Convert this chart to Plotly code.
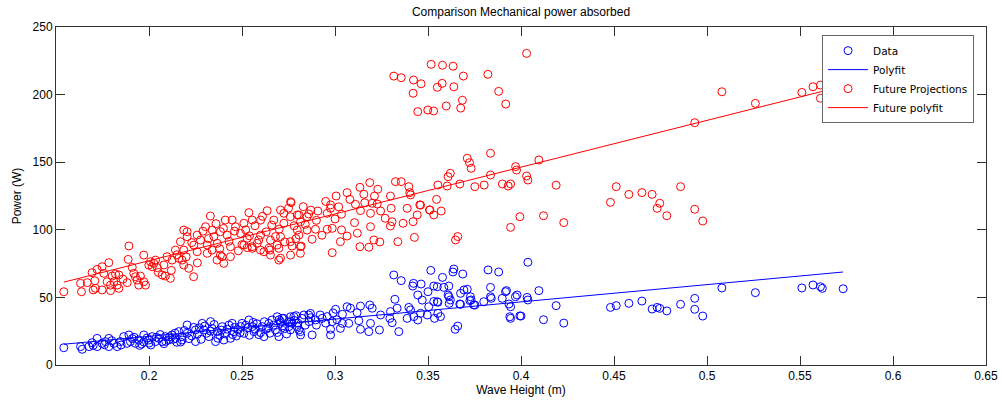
import numpy as np
import plotly.graph_objects as go

# ---------------- Data ----------------
data_x = [
    0.1542, 0.1632, 0.1641, 0.1677, 0.1694, 0.1700, 0.1721, 0.1721, 0.1748, 0.1760,
    0.1766, 0.1784, 0.1784, 0.1800, 0.1811, 0.1829, 0.1846, 0.1850, 0.1864, 0.1882,
    0.1892, 0.1900, 0.1910, 0.1927, 0.1945, 0.1960, 0.1972, 0.1972, 0.1999, 0.2000,
    0.2017, 0.2035, 0.2040, 0.2053, 0.2071, 0.2088, 0.2090, 0.2106, 0.2124, 0.2130,
    0.2142, 0.2150, 0.2160, 0.2178, 0.2178,
    0.2205, 0.2205, 0.2230, 0.2250, 0.2250, 0.2270, 0.2286, 0.2295, 0.2310, 0.2322,
    0.2331, 0.2340, 0.2358, 0.2367, 0.2380, 0.2394, 0.2402, 0.2420, 0.2438, 0.2447,
    0.2456, 0.2470, 0.2480, 0.2492, 0.2500, 0.2510, 0.2530, 0.2537, 0.2555, 0.2564,
    0.2580, 0.2590, 0.2609, 0.2618, 0.2630, 0.2644, 0.2650, 0.2662, 0.2680, 0.2689,
    0.2698, 0.2707, 0.2716, 0.2730, 0.2740, 0.2761, 0.2770, 0.2780, 0.2797, 0.2814,
    0.2833, 0.2860,
    0.1920, 0.1950, 0.1990, 0.2010, 0.2060, 0.2080, 0.2110, 0.2140, 0.2170, 0.2190,
    0.2215, 0.2240, 0.2260, 0.2280, 0.2300, 0.2330, 0.2350, 0.2370, 0.2390, 0.2410,
    0.2430, 0.2450, 0.2460, 0.2490, 0.2520, 0.2540, 0.2560, 0.2570, 0.2600, 0.2620,
    0.2640, 0.2670, 0.2690, 0.2700, 0.2720, 0.2750, 0.2760, 0.2790, 0.2800, 0.2840,
    0.2870, 0.2900, 0.2920, 0.2950, 0.2990, 0.3010,
    0.2707, 0.2725, 0.2752, 0.2761, 0.2779, 0.2806, 0.2815, 0.2823, 0.2859, 0.2868,
    0.2877, 0.2895, 0.2931, 0.2958, 0.2976, 0.2976, 0.2985, 0.3003, 0.3029, 0.3040,
    0.3040, 0.3065, 0.3074, 0.3083, 0.3119, 0.3128, 0.3137, 0.3137, 0.3182, 0.3187,
    0.3191, 0.3200, 0.3239, 0.3245, 0.3295, 0.3298, 0.3307, 0.3316, 0.3322, 0.3334,
    0.3343, 0.3356, 0.3388, 0.3397, 0.3406, 0.3418, 0.3422, 0.3424, 0.3445, 0.3445,
    0.3460, 0.3463, 0.3469, 0.3496, 0.3500, 0.3504, 0.3515, 0.3531, 0.3531, 0.3535,
    0.3550, 0.3550, 0.3553, 0.3553, 0.3567, 0.3578, 0.3585, 0.3608, 0.3612, 0.3612,
    0.3614, 0.3620, 0.3634, 0.3639, 0.3646, 0.3660, 0.3671, 0.3675, 0.3675, 0.3687,
    0.3693, 0.3711, 0.3725, 0.3728, 0.3732, 0.3746, 0.3752, 0.3800, 0.3823, 0.3836,
    0.3836, 0.3840, 0.3880, 0.3899, 0.3917, 0.3922, 0.3935, 0.3940, 0.3944, 0.3944,
    0.3970, 0.3979, 0.3994, 0.4000, 0.4033, 0.4037, 0.4037, 0.4096, 0.4121, 0.4189,
    0.4230,
    0.4481, 0.4512, 0.4580, 0.4650, 0.4705, 0.4732, 0.4746, 0.4784, 0.4858, 0.4934,
    0.4934, 0.4977, 0.5080, 0.5260, 0.5510, 0.5570, 0.5610, 0.5620, 0.5732,
]
data_y = [
    12.8, 13.6, 11.6, 13.6, 16.5, 14.5, 19.7, 13.6, 16.0, 15.0,
    17.3, 19.7, 13.6, 18.0, 16.0, 13.6, 17.3, 14.8, 21.0, 16.0,
    22.2, 17.3, 19.5, 16.0, 18.5, 15.5, 22.2, 17.0, 18.5, 16.2,
    21.0, 17.3, 20.5, 19.7, 17.3, 21.0, 17.5, 18.5, 22.2, 19.0,
    19.7, 16.8, 24.7, 21.0, 18.5,
    29.6, 23.4, 21.5, 25.9, 17.3, 27.5, 30.8, 25.9, 23.5, 21.0,
    32.1, 27.0, 17.3, 24.7, 22.0, 28.4, 18.5, 26.5, 19.7, 30.8,
    24.7, 21.5, 26.0, 28.4, 30.8, 23.4, 27.5, 33.3, 28.4, 24.7,
    30.5, 22.5, 28.4, 21.0, 26.5, 30.8, 23.5, 33.3, 25.9, 35.7,
    21.0, 30.8, 34.5, 27.0, 23.0, 35.7, 30.8, 33.0, 28.4, 24.7,
    37.0, 32.1,
    20.5, 14.5, 20.0, 14.8, 22.5, 15.8, 20.8, 23.5, 17.0, 25.5,
    19.5, 27.8, 22.8, 19.0, 28.8, 25.0, 30.0, 19.8, 25.8, 23.0,
    29.5, 22.5, 27.8, 24.0, 29.5, 22.0, 31.5, 26.5, 24.0, 32.0,
    27.5, 29.5, 24.0, 33.5, 29.0, 31.8, 26.0, 36.5, 31.0, 29.5,
    35.0, 29.5, 37.0, 31.0, 38.5, 33.5,
    32.1, 34.5, 28.4, 32.1, 35.8, 25.9, 22.2, 34.5, 37.0, 38.2,
    22.2, 33.3, 34.5, 35.8, 26.4, 22.2, 32.1, 41.2, 27.1, 37.5,
    30.8, 43.1, 30.8, 42.0, 38.7, 32.8, 43.6, 26.4, 24.7, 44.4,
    30.8, 42.0, 25.9, 37.0, 34.5, 39.5, 31.3, 66.6, 48.6, 42.0,
    24.7, 62.4, 34.5, 42.6, 40.7, 58.4, 60.4, 35.8, 51.8, 33.3,
    38.2, 59.9, 48.0, 37.0, 54.2, 43.1, 70.0, 58.4, 47.0, 34.5,
    57.9, 46.8, 38.2, 46.4, 35.8, 64.8, 57.4, 51.8, 58.4, 50.5,
    45.6, 48.1, 68.8, 71.0, 26.4, 28.8, 45.1, 53.0, 44.9, 67.3,
    55.5, 56.0, 47.6, 50.5, 48.1, 44.4, 44.4, 46.8, 70.3, 57.4,
    50.5, 49.3, 68.8, 49.3, 54.2, 55.0, 45.1, 35.7, 43.1, 34.5,
    50.5, 51.8, 36.3, 36.2, 50.0, 48.1, 76.0, 55.0, 33.5, 43.9,
    31.0,
    42.6, 43.9, 45.6, 47.3, 41.4, 42.6, 41.9, 40.0, 44.9, 49.3,
    41.2, 36.2, 57.0, 53.5, 57.0, 59.2, 57.9, 56.7, 56.4,
]

future_x = [
    0.1542, 0.1632, 0.1637, 0.1668, 0.1694, 0.1700, 0.1709, 0.1712, 0.1721, 0.1748,
    0.1748, 0.1757, 0.1775, 0.1784, 0.1793, 0.1793, 0.1802, 0.1811, 0.1820, 0.1829,
    0.1838, 0.1838, 0.1860, 0.1883, 0.1888, 0.1892, 0.1910, 0.1918, 0.1927, 0.1936,
    0.1945, 0.1954, 0.1972, 0.1972, 0.1981, 0.1999, 0.2008, 0.2017, 0.2026, 0.2035,
    0.2045, 0.2071, 0.2088, 0.2097, 0.2115, 0.2124, 0.2142, 0.2160, 0.2169, 0.2178,
    0.2187, 0.2187, 0.2187,
    0.2205, 0.2205, 0.2214, 0.2240, 0.2241, 0.2259, 0.2259, 0.2277, 0.2304, 0.2313,
    0.2313, 0.2330, 0.2339, 0.2340, 0.2349, 0.2366, 0.2367, 0.2384, 0.2384, 0.2393,
    0.2402, 0.2410, 0.2420, 0.2438, 0.2438, 0.2447, 0.2465, 0.2492, 0.2500, 0.2510,
    0.2510, 0.2528, 0.2528, 0.2537, 0.2554, 0.2555, 0.2555, 0.2582, 0.2599, 0.2600,
    0.2600, 0.2618, 0.2635, 0.2644, 0.2650, 0.2653, 0.2653, 0.2671, 0.2689, 0.2698,
    0.2698, 0.2707, 0.2707, 0.2707, 0.2725, 0.2725, 0.2760, 0.2760, 0.2761, 0.2761,
    0.2764, 0.2769, 0.2797, 0.2797, 0.2806, 0.2806, 0.2814, 0.2814, 0.2815, 0.2818,
    0.2829, 0.2850, 0.2850, 0.2859, 0.2877, 0.2895, 0.2908, 0.2958, 0.2958, 0.2976,
    0.2976, 0.2985, 0.2985, 0.3006, 0.3029, 0.3035, 0.3035, 0.3065, 0.3065, 0.3105,
    0.3110, 0.3134, 0.3134, 0.3137, 0.3155, 0.3182, 0.3187, 0.3191, 0.3191, 0.3200,
    0.3209, 0.3212, 0.3227, 0.3241, 0.3245, 0.3298, 0.3298, 0.3302, 0.3307, 0.3316,
    0.3325, 0.3338, 0.3356, 0.3356, 0.3366, 0.3388, 0.3397, 0.3402, 0.3406, 0.3420,
    0.3420, 0.3422, 0.3427, 0.3442, 0.3445, 0.3456, 0.3460, 0.3463, 0.3499, 0.3508,
    0.3510, 0.3517, 0.3530, 0.3531, 0.3546, 0.3550, 0.3553, 0.3571, 0.3576, 0.3578,
    0.3598, 0.3603, 0.3608, 0.3620, 0.3635, 0.3639, 0.3648, 0.3660, 0.3671, 0.3676,
    0.3685, 0.3690, 0.3711, 0.3723, 0.3732, 0.3752, 0.3802, 0.3822, 0.3836, 0.3836,
    0.3880, 0.3900, 0.3918, 0.3931, 0.3944, 0.3944, 0.3971, 0.3976, 0.3994, 0.4030,
    0.4030, 0.4037, 0.4096, 0.4121, 0.4189, 0.4230,
    0.4481, 0.4512, 0.4580, 0.4650, 0.4705, 0.4732, 0.4746, 0.4784, 0.4858, 0.4934,
    0.4934, 0.4977, 0.5080, 0.5260, 0.5510, 0.5570, 0.5610, 0.5610, 0.5732,
    0.2050, 0.2080, 0.2120, 0.2150, 0.2200, 0.2230, 0.2260, 0.2290, 0.2320, 0.2360,
    0.2380, 0.2400, 0.2430, 0.2460, 0.2480, 0.2520, 0.2540, 0.2570, 0.2590, 0.2610,
    0.2630, 0.2660, 0.2680, 0.2700, 0.2730, 0.2750, 0.2780, 0.2790, 0.2840, 0.2870,
    0.2900, 0.2930, 0.2950, 0.3000, 0.3020, 0.3080, 0.3120, 0.3160, 0.3230, 0.3270,
]
future_y = [
    54.2, 60.4, 54.2, 60.9, 68.3, 55.5, 62.3, 56.7, 70.7, 72.7,
    55.5, 67.8, 61.6, 75.7, 59.1, 55.0, 65.8, 61.6, 67.3, 59.1,
    56.7, 66.6, 63.5, 60.9, 78.1, 88.0, 72.2, 67.8, 65.3, 62.8,
    59.1, 65.8, 61.6, 81.3, 59.1, 73.9, 76.4, 72.7, 75.2, 77.6,
    72.0, 66.5, 65.8, 80.1, 64.1, 77.6, 85.0, 78.9, 91.2, 77.6,
    73.9, 99.8, 85.0,
    98.6, 94.9, 71.5, 65.3, 88.7, 96.1, 83.8, 92.4, 102.3, 88.7,
    82.6, 110.2, 85.0, 99.8, 94.9, 77.6, 90.0, 98.6, 81.3, 80.1,
    75.2, 107.2, 96.1, 87.5, 80.1, 107.2, 102.3, 97.4, 89.0, 104.8,
    88.7, 93.7, 86.8, 112.7, 87.5, 107.2, 86.3, 90.0, 85.0, 107.2,
    96.1, 83.8, 114.1, 86.3, 85.0, 92.4, 81.3, 107.2, 88.7, 86.3,
    77.6, 114.6, 94.9, 79.0, 104.8, 112.2, 109.7, 91.2, 120.8, 81.3,
    120.1, 88.0, 111.0, 99.8, 110.9, 96.1, 87.5, 82.6, 106.0, 88.0,
    117.1, 109.7, 99.8, 111.7, 93.0, 100.4, 113.9, 112.2, 100.4, 118.4,
    115.9, 101.1, 83.1, 125.0, 91.2, 111.5, 99.9, 127.5, 95.4, 105.3,
    118.8, 131.4, 87.5, 114.2, 126.3, 87.1, 134.9, 112.2, 102.3, 119.6,
    92.5, 125.0, 119.1, 91.0, 113.9, 125.0, 102.8, 115.9, 106.0, 213.7,
    135.6, 91.2, 135.6, 212.5, 104.8, 115.9, 131.9, 127.5, 125.8, 106.0,
    201.0, 210.8, 94.4, 111.0, 187.4, 118.4, 118.3, 208.0, 188.6, 114.7,
    114.6, 222.4, 187.9, 111.0, 122.5, 205.4, 133.1, 113.9, 208.3, 221.7,
    191.6, 132.4, 139.3, 141.8, 221.0, 205.8, 92.5, 95.0, 133.9, 190.0,
    195.8, 213.7, 152.9, 149.7, 145.5, 131.9, 133.1, 215.0, 156.6, 140.5,
    202.4, 133.9, 193.0, 132.4, 133.9, 101.8, 146.7, 144.2, 109.7, 230.5,
    139.8, 136.8, 151.6, 110.4, 133.0, 105.3,
    120.3, 131.9, 126.2, 127.5, 126.2, 115.9, 119.6, 110.4, 131.9, 179.2,
    115.2, 106.5, 202.1, 193.5, 201.6, 205.8, 207.0, 197.3, 205.0,
    68.5, 74.0, 70.0, 81.5, 80.0, 90.5, 75.5, 99.0, 93.5, 104.5,
    86.0, 101.0, 91.5, 99.0, 84.5, 100.0, 95.5, 103.0, 92.5, 110.0,
    98.5, 103.5, 95.0, 100.5, 91.0, 116.0, 103.0, 93.5, 104.0, 114.5,
    107.0, 96.0, 121.0, 108.0, 117.0, 122.5, 97.5, 120.0, 130.0, 108.5,
]

x_ticks = [0.2, 0.25, 0.3, 0.35, 0.4, 0.45, 0.5, 0.55, 0.6, 0.65]
x_tick_labels = ["0.2", "0.25", "0.3", "0.35", "0.4", "0.45", "0.5", "0.55", "0.6", "0.65"]
y_ticks = [0, 50, 100, 150, 200, 250]
y_tick_labels = ["0", "50", "100", "150", "200", "250"]

# ---------------- Fits (degree-1 polyfit, as in the original) ----------------
dx = np.array(data_x)
dy = np.array(data_y)
fx = np.array(future_x)
fy = np.array(future_y)
p_data = np.polyfit(dx, dy, 1)
p_future = np.polyfit(fx, fy, 1)
dx_sorted = np.sort(dx)
fx_sorted = np.sort(fx)

BLUE = "#0000FF"
RED = "#FF0000"
FONT = "Liberation Sans, Arial, Helvetica, sans-serif"

fig = go.Figure()
fig.add_trace(go.Scatter(
    x=dx, y=dy, mode="markers", name="Data",
    marker=dict(symbol="circle-open", size=8, color=BLUE, line=dict(width=1, color=BLUE)),
))
fig.add_trace(go.Scatter(
    x=dx_sorted, y=np.polyval(p_data, dx_sorted), mode="lines", name="Polyfit",
    line=dict(color=BLUE, width=1),
))
fig.add_trace(go.Scatter(
    x=fx, y=fy, mode="markers", name="Future Projections",
    marker=dict(symbol="circle-open", size=8, color=RED, line=dict(width=1, color=RED)),
))
fig.add_trace(go.Scatter(
    x=fx_sorted, y=np.polyval(p_future, fx_sorted), mode="lines", name="Future polyfit",
    line=dict(color=RED, width=1),
))

axis_common = dict(
    showline=True, linecolor="#333333", linewidth=1, mirror="ticks",
    ticks="inside", ticklen=9, tickcolor="#333333", tickwidth=1,
    showgrid=False, zeroline=False,
    tickfont=dict(family=FONT, size=12, color="#000000"),
)

fig.update_layout(
    width=1002, height=403,
    margin=dict(l=56, r=16, t=27, b=38, autoexpand=False),
    paper_bgcolor="white", plot_bgcolor="white",
    title=dict(text="Comparison Mechanical power absorbed",
               font=dict(family=FONT, size=12, color="#000000"),
               x=0.5, xref="paper", xanchor="center",
               y=0.97, yref="container", yanchor="middle"),
    xaxis=dict(range=[0.15, 0.65], tickvals=x_ticks, ticktext=x_tick_labels,
               title=dict(text="Wave Height (m)", font=dict(family=FONT, size=12, color="#000000"),
                          standoff=2),
               automargin=False, **axis_common),
    yaxis=dict(range=[0, 250], tickvals=y_ticks, ticktext=y_tick_labels,
               title=dict(text="Power (W)", font=dict(family=FONT, size=12, color="#000000"),
                          standoff=8),
               automargin=False, **axis_common),
    legend=dict(x=0.8237, y=0.976, xanchor="left", yanchor="top",
                bgcolor="white", bordercolor="#666666", borderwidth=1,
                itemwidth=40,
                font=dict(family="DejaVu Sans, Verdana, sans-serif", size=10.5, color="#000000"),
                tracegroupgap=0),
    showlegend=True,
)

fig.write_html("out.html", config={"displayModeBar": False},
               post_script="document.body.style.margin='0px';")
